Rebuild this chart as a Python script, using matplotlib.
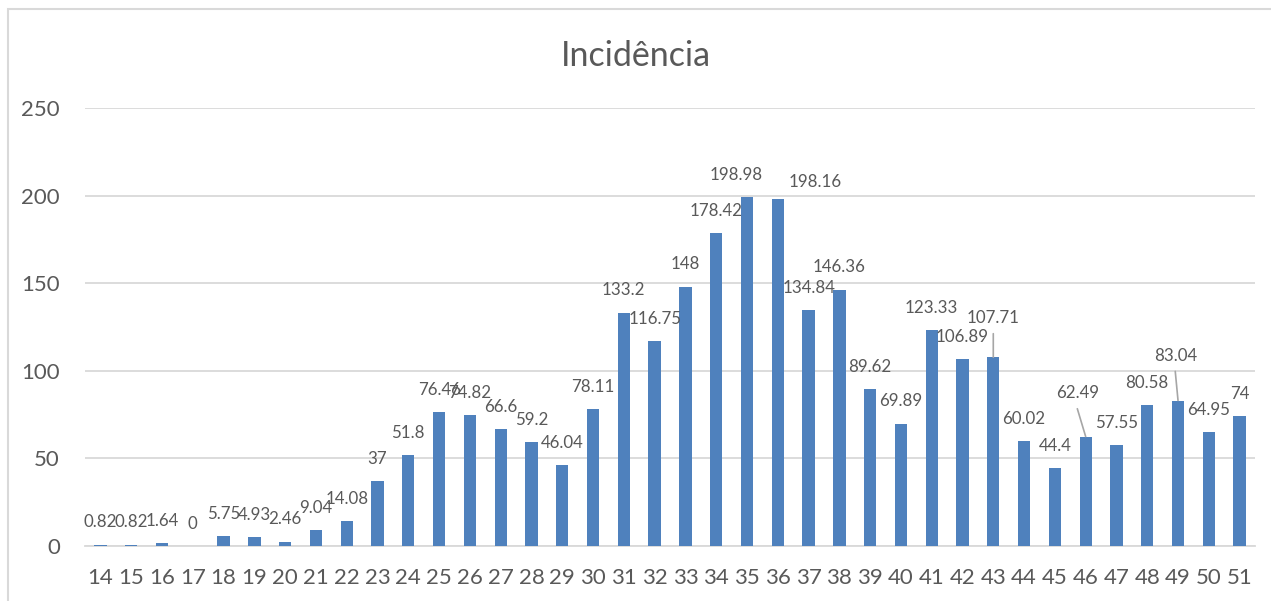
import numpy as np
import matplotlib.pyplot as plt
from matplotlib.patches import Rectangle

plt.rcParams['font.family'] = ['Lato', 'DejaVu Sans']

# Data
semanas = list(range(14, 52))
incidencia = [0.82, 0.82, 1.64, 0, 5.75, 4.93, 2.46, 9.04, 14.08, 37,
              51.8, 76.46, 74.82, 66.6, 59.2, 46.04, 78.11, 133.2, 116.75, 148,
              178.42, 198.98, 198.16, 134.84, 146.36, 89.62, 69.89, 123.33, 106.89, 107.71,
              60.02, 44.4, 62.49, 57.55, 80.58, 83.04, 64.95, 74]
rotulos = ["0.82", "0.82", "1.64", "0", "5.75", "4.93", "2.46", "9.04", "14.08", "37",
           "51.8", "76.46", "74.82", "66.6", "59.2", "46.04", "78.11", "133.2", "116.75", "148",
           "178.42", "198.98", "198.16", "134.84", "146.36", "89.62", "69.89", "123.33", "106.89", "107.71",
           "60.02", "44.4", "62.49", "57.55", "80.58", "83.04", "64.95", "74"]

# label shifts that were moved by hand in the original (dx, dy in points)
desloc = {35: (-8, 0), 36: (27, -4), 43: (0, 12), 46: (-6, 15), 49: (-2, 16)}
com_linha = [43, 46, 49]

cor_barra = "#4F81BD"
cor_texto = "#595959"
cor_grade = "#D9D9D9"

fig = plt.figure(figsize=(12.71, 6.01), dpi=100)
ax = fig.add_axes([85 / 1271, 1 - 546 / 601, 1170 / 1271, 438 / 601])

x = np.arange(len(semanas))
ax.bar(x, incidencia, width=0.4, color=cor_barra, zorder=3)

for i, (v, txt) in enumerate(zip(incidencia, rotulos)):
    dx, dy = desloc.get(semanas[i], (0, 0))
    ax.annotate(txt, (x[i], v), xytext=(dx, 16 + dy), textcoords="offset points",
                ha="center", va="center", fontsize=12.2, color=cor_texto, zorder=4)
    if semanas[i] in com_linha:
        ax.annotate("", (x[i], v), xytext=(dx, 5 + dy), textcoords="offset points",
                    arrowprops=dict(arrowstyle="-", color="#A6A6A6", lw=1.2,
                                    shrinkA=0, shrinkB=0))

ax.set_xlim(-0.5, len(semanas) - 0.5)
ax.set_ylim(0, 250)
ax.set_yticks(range(0, 251, 50))
ax.set_xticks(x)
ax.set_xticklabels([str(s) for s in semanas])
ax.yaxis.grid(True, color=cor_grade, lw=1.3, zorder=0)
ax.tick_params(axis="both", length=0, labelsize=16, colors=cor_texto)
ax.tick_params(axis="y", pad=18)
ax.tick_params(axis="x", pad=16)
for s in ["top", "right", "left"]:
    ax.spines[s].set_visible(False)
ax.spines["bottom"].set_color(cor_grade)
ax.spines["bottom"].set_linewidth(1.3)

fig.text(0.5, 1 - 56 / 601, "Incidência", ha="center", va="center",
         fontsize=24.5, color=cor_texto)

# chart border
fig.patches.append(Rectangle((8 / 1271, -0.05), 1.1, 1.05 - 9 / 601,
                             transform=fig.transFigure, fill=False,
                             edgecolor="#D9D9D9", lw=1.5))

fig.savefig("out.png", dpi=100)
